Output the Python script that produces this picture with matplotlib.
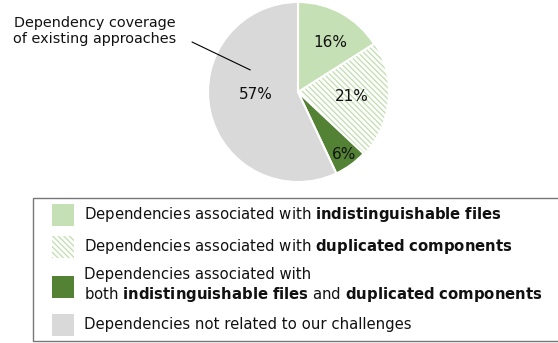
import matplotlib
matplotlib.use("Agg")
import matplotlib.pyplot as plt
from matplotlib.patches import Patch, Rectangle
from matplotlib.legend_handler import HandlerPatch
import numpy as np

labels = [
    "Dependencies associated with $\\bf{indistinguishable\\ files}$",
    "Dependencies associated with $\\bf{duplicated\\ components}$",
    "Dependencies associated with\nboth $\\bf{indistinguishable\\ files}$ and $\\bf{duplicated\\ components}$",
    "Dependencies not related to our challenges",
]
values = [16, 21, 6, 57]
pct_labels = ["16%", "21%", "6%", "57%"]
colors = ["#C5E0B4", "#FFFFFF", "#548235", "#D9D9D9"]
hatch_color = "#C5E0B4"
label_r = [0.655, 0.60, 0.866, 0.468]
label_dang = [-4.0, 0.6, 0.6, -8.6]

W, H = 558, 343
fig = plt.figure(figsize=(W / 100, H / 100), dpi=100)
cx, cy, R = 298, 92, 90
ax = fig.add_axes([(cx - R) / W, (H - cy - R) / H, 2 * R / W, 2 * R / H])
wedges, _ = ax.pie(values, colors=colors, startangle=90, counterclock=False,
                   wedgeprops=dict(edgecolor="white", linewidth=1.5))
hw = wedges[1]
hw.set_hatch("\\\\\\\\\\\\")
hw.set_edgecolor(hatch_color)
hw.set_linewidth(0)
hw.set_zorder(0.5)
ax.set_xlim(-1, 1)
ax.set_ylim(-1, 1)
ax.set_aspect("equal")

for w, t, r, da in zip(wedges, pct_labels, label_r, label_dang):
    ang = np.deg2rad((w.theta1 + w.theta2) / 2 + da)
    ax.text(r * np.cos(ang), r * np.sin(ang), t, ha="center", va="center",
            fontsize=11, color="#111111", zorder=5)

ax.annotate("", xy=(-0.53, 0.245), xytext=(192, H - 42), textcoords="figure pixels",
            arrowprops=dict(arrowstyle="-", color="black", lw=0.8, shrinkA=0, shrinkB=0))
fig.text(95 / W, 1 - 31 / H, "Dependency coverage\nof existing approaches",
         ha="center", va="center", fontsize=10.4, color="#111111", linespacing=1.15)

FS = 10.7
px_per_em = FS * 100 / 72
PT = 0.72            # points per pixel at 100 dpi
OFFSET = 13 * PT     # indent of the swatch inside the handle box
SW = 22 * PT         # swatch size
HH = (22 / px_per_em - 0.245) / 0.65   # handle box exactly 22 px tall


def make_patch(legend, orig_handle, xdescent, ydescent, width, height, fontsize):
    y0 = height / 2 - ydescent - SW / 2
    return Rectangle((-xdescent + OFFSET, y0), SW, SW)


handles = [
    Patch(facecolor=colors[0], edgecolor="none"),
    Patch(facecolor="white", edgecolor=hatch_color, hatch="\\\\\\\\\\\\", linewidth=0),
    Patch(facecolor=colors[2], edgecolor="none"),
    Patch(facecolor=colors[3], edgecolor="none"),
]
hm = {h: HandlerPatch(patch_func=make_patch) for h in handles}
leg = fig.legend(handles, labels, loc="upper left", handler_map=hm,
                 bbox_to_anchor=(33 / W, (H - 340) / H, (W + 5 - 33) / W, 142 / H),
                 mode="expand", fontsize=FS, frameon=True, fancybox=False,
                 handlelength=35 / px_per_em, handleheight=HH,
                 handletextpad=11 / px_per_em,
                 labelspacing=10 / px_per_em, borderpad=5.5 / px_per_em, borderaxespad=0)
leg.get_frame().set_edgecolor("#555555")
leg.get_frame().set_linewidth(1.0)
for t in leg.get_texts():
    t.set_color("#111111")
    t.set_linespacing(1.15)

fig.savefig("out.png", dpi=100)
